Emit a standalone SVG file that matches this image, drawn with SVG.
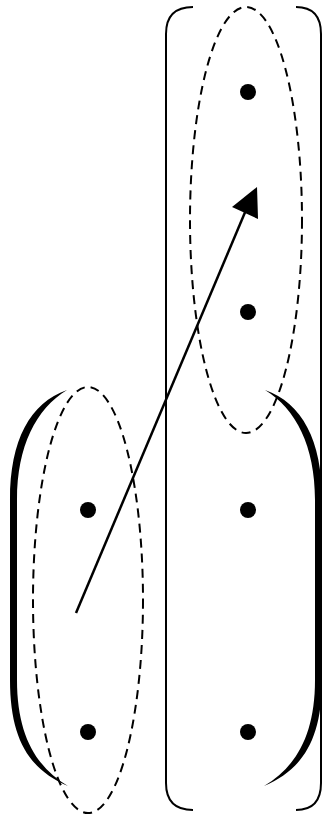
<svg xmlns="http://www.w3.org/2000/svg" width="324" height="817" viewBox="0 0 324 817">
<style>
.box{fill:none;stroke:#000;stroke-width:2}
.ell{fill:none;stroke:#000;stroke-width:2;stroke-dasharray:9,6}
.dot{fill:#000}
.paren{fill:#000;stroke:none}
.arrow{stroke:#000;stroke-width:2.5;fill:none}
</style>
<rect width="324" height="817" fill="#fff"/>
<g id="box-right">
<path class="box" d="M193,7 Q166,7 166,34 L166,783 Q166,810 193,810"/>
<path class="box" d="M296,7 Q321,7 321,34 L321,783 Q321,810 296,810"/>
</g>
<g id="paren-left">
<path class="paren" d="M67,390 C30,403 10,440 10,500 L10,680 C10,740 30,770 68,786 C36,767 17,735 17,680 L17,500 C17,446 36,409 67,390 Z"/>
</g>
<g id="paren-right" transform="translate(332,0) scale(-1,1)">
<path class="paren" d="M67,390 C30,403 10,440 10,500 L10,680 C10,740 30,770 68,786 C36,767 17,735 17,680 L17,500 C17,446 36,409 67,390 Z"/>
</g>
<g id="ellipse-left"><ellipse class="ell" cx="88" cy="600" rx="55" ry="213"/></g>
<g id="ellipse-right"><ellipse class="ell" cx="246" cy="220" rx="56" ry="213"/></g>
<g id="dots">
<circle class="dot" cx="248" cy="92" r="8"/>
<circle class="dot" cx="248" cy="312" r="8"/>
<circle class="dot" cx="248" cy="510" r="8"/>
<circle class="dot" cx="248" cy="732" r="8"/>
<circle class="dot" cx="88" cy="510" r="8"/>
<circle class="dot" cx="88" cy="732" r="8"/>
</g>
<g id="connectors">
<line class="arrow" x1="76" y1="613" x2="246" y2="210"/>
<polygon points="257,187 232,207 258,219" fill="#000"/>
</g>
</svg>
